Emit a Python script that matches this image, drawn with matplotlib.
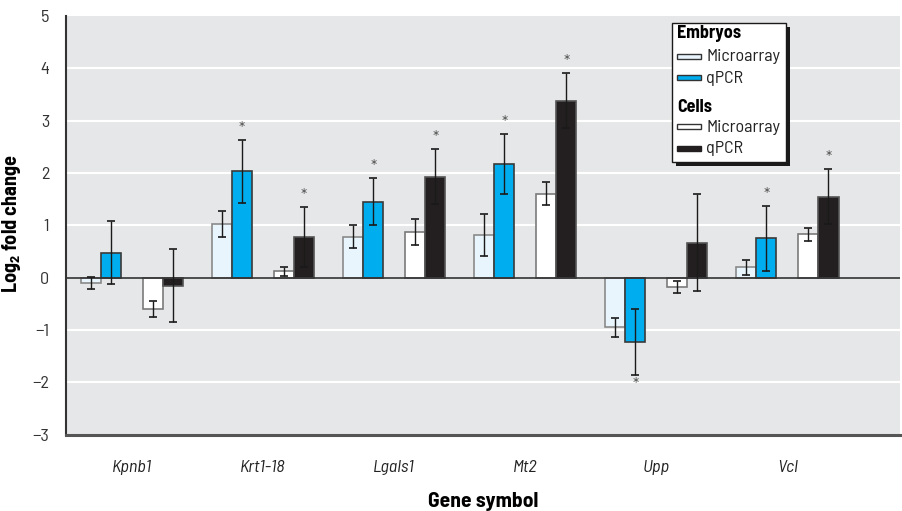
import numpy as np
import matplotlib
matplotlib.use('Agg')
import matplotlib.pyplot as plt
from matplotlib.patches import Rectangle

plt.rcParams['font.family'] = ['Barlow Semi Condensed', 'DejaVu Sans']
plt.rcParams['mathtext.fontset'] = 'custom'
plt.rcParams['mathtext.rm'] = 'Barlow Semi Condensed'
plt.rcParams['mathtext.bf'] = 'Barlow Semi Condensed:bold'

genes = ['Kpnb1', 'Krt1-18', 'Lgals1', 'Mt2', 'Upp', 'Vcl']

# log2 fold change, means and error (+/-)
emb_ma = [-0.10, 1.03, 0.78, 0.82, -0.95, 0.20]
emb_ma_err = [0.12, 0.25, 0.22, 0.40, 0.18, 0.14]
emb_qpcr = [0.48, 2.03, 1.45, 2.17, -1.22, 0.75]
emb_qpcr_err = [0.60, 0.60, 0.45, 0.57, 0.63, 0.62]
cell_ma = [-0.60, 0.12, 0.87, 1.60, -0.18, 0.83]
cell_ma_err = [0.15, 0.08, 0.25, 0.22, 0.12, 0.12]
cell_qpcr = [-0.15, 0.78, 1.93, 3.38, 0.67, 1.55]
cell_qpcr_err = [0.70, 0.57, 0.52, 0.53, 0.92, 0.52]

# significance flags
emb_qpcr_sig = [False, True, True, True, True, True]
cell_qpcr_sig = [False, True, True, True, False, True]

fig = plt.figure(figsize=(9.02, 5.11), dpi=100)
ax = fig.add_axes([0.073, 0.149, 0.925, 0.820])
ax.set_facecolor('#e6e7e8')

x = np.arange(len(genes))
w = 0.153
series = [
    (emb_ma, emb_ma_err, -0.313, '#e8f5fc', '#8a8a8a', None),
    (emb_qpcr, emb_qpcr_err, -0.160, '#00aeef', '#3a3a3a', emb_qpcr_sig),
    (cell_ma, cell_ma_err, 0.160, '#ffffff', '#7a7a7a', None),
    (cell_qpcr, cell_qpcr_err, 0.313, '#231f20', '#555555', cell_qpcr_sig),
]
for vals, errs, off, fc, ec, sig in series:
    ax.bar(x + off, vals, w, color=fc, edgecolor=ec, lw=1.2, zorder=3)
    ax.errorbar(x + off, vals, yerr=errs, fmt='none', ecolor='#1a1a1a',
                elinewidth=1, capsize=3, capthick=1.2, zorder=4)
    if sig:
        for xi, v, e, s in zip(x + off, vals, errs, sig):
            if not s:
                continue
            if v >= 0:
                ax.text(xi, v + e + 0.06, '*', ha='center', va='bottom',
                        fontsize=12, color='#555555', zorder=5)
            else:
                ax.text(xi, v - e - 0.06, '*', ha='center', va='top',
                        fontsize=12, color='#555555', zorder=5)

ax.set_xlim(-0.504, 5.86)
ax.set_ylim(-3, 5)
ax.set_yticks(range(-3, 6))
for yv in range(-2, 5):
    if yv != 0:
        ax.axhline(yv, color='white', lw=1.5, zorder=1)
ax.axhline(0, color='#333333', lw=1.2, zorder=3.5)

ax.set_xticks(x)
ax.set_xticklabels(genes, style='italic', fontsize=13, color='#222222')
ax.tick_params(axis='x', length=0, pad=18)
ax.tick_params(axis='y', length=0, pad=12, labelsize=13, labelcolor='#333333')

for s in ['top', 'right']:
    ax.spines[s].set_visible(False)
ax.spines['left'].set_color('#333333')
ax.spines['left'].set_linewidth(1.5)
ax.spines['bottom'].set_color('#555555')
ax.spines['bottom'].set_linewidth(2.2)

ax.set_ylabel(r'Log$_\mathbf{2}$ fold change', fontsize=14.5, fontweight='bold')
ax.yaxis.set_label_coords(-0.051, 0.505)
ax.set_xlabel('Gene symbol', fontsize=15.5, fontweight='bold', labelpad=12)

# legend drawn by hand (two titled sections)
def px(xp, yp):
    return xp / 902, 1 - yp / 511

bx0, by0 = px(672, 162)
bx1, by1 = px(786, 23)
fig.patches.append(Rectangle((bx0 + 4 / 902, by0 - 4 / 511), bx1 - bx0, by1 - by0,
                             transform=fig.transFigure, facecolor='#1a1a1a',
                             edgecolor='none', zorder=5))
fig.patches.append(Rectangle((bx0, by0), bx1 - bx0, by1 - by0,
                             transform=fig.transFigure, facecolor='white',
                             edgecolor='#1a1a1a', lw=1, zorder=6))
legend_rows = [
    ('Embryos', None, None, 34),
    ('Microarray', '#e8f5fc', '#333333', 57),
    ('qPCR', '#00aeef', '#333333', 78),
    ('Cells', None, None, 107),
    ('Microarray', '#ffffff', '#333333', 127),
    ('qPCR', '#231f20', '#231f20', 148),
]
for label, fc, ec, yp in legend_rows:
    if fc is None:
        tx, ty = px(677, yp)
        fig.text(tx, ty, label, fontsize=13, fontweight='bold', va='center',
                 ha='left', zorder=7)
    else:
        rx, ry = px(677, yp + 2.5)
        fig.patches.append(Rectangle((rx, ry), 24 / 902, 5 / 511,
                                     transform=fig.transFigure, facecolor=fc,
                                     edgecolor=ec, lw=1, zorder=7))
        tx, ty = px(706, yp)
        fig.text(tx, ty, label, fontsize=13, va='center', ha='left',
                 color='#222222', zorder=7)

fig.savefig('out.png', dpi=100)
